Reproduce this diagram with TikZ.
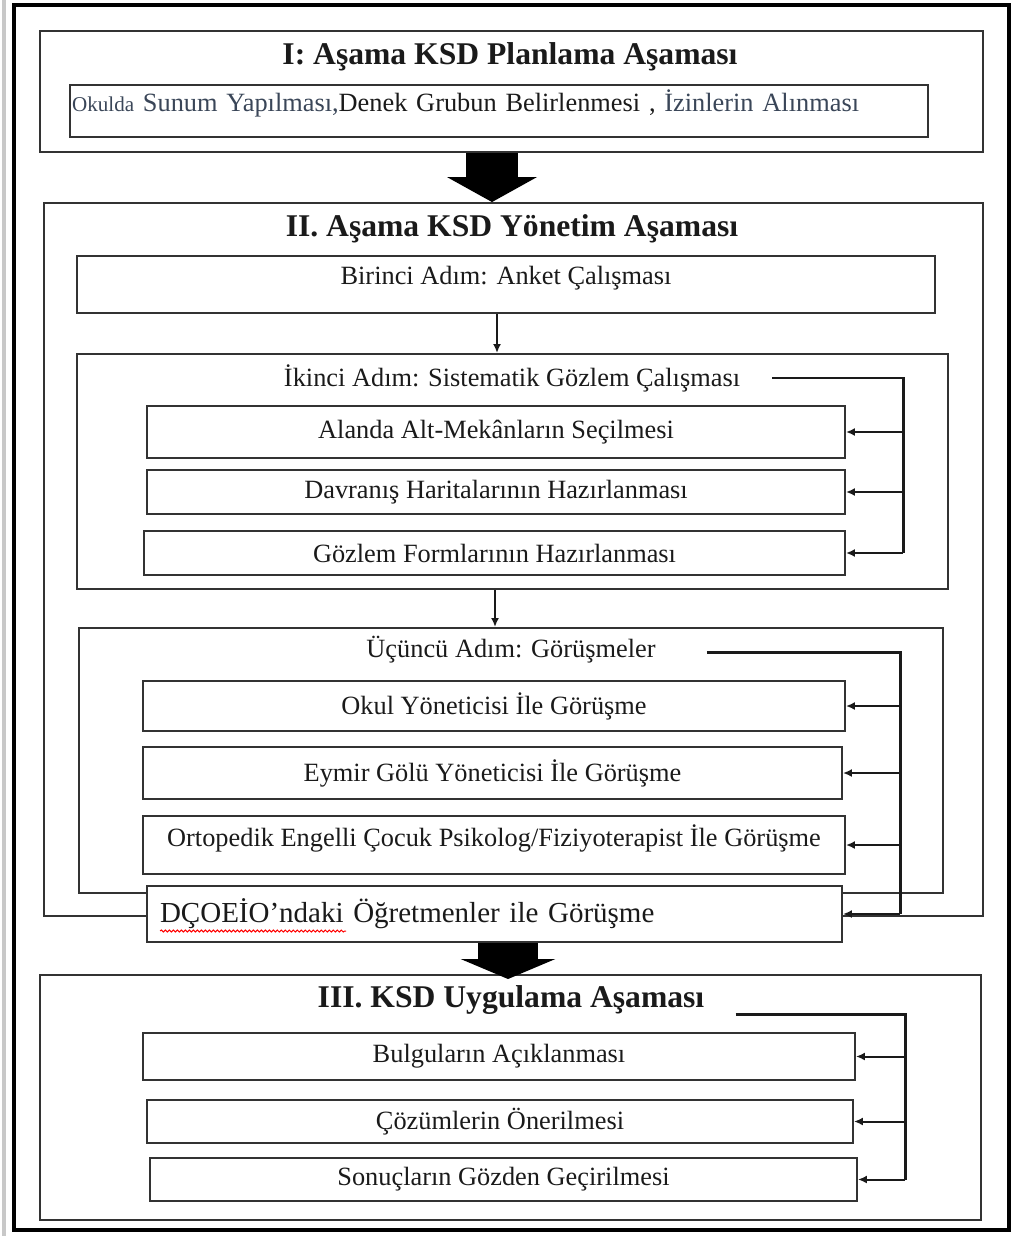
\documentclass[tikz,border=0pt]{standalone}
\usepackage{fontspec}
\setmainfont{Liberation Serif}
\usetikzlibrary{arrows.meta,positioning,calc,decorations.pathmorphing}
\definecolor{ksdInk}{HTML}{1A1A1A}
\definecolor{ksdLine}{HTML}{333333}
\definecolor{ksdSlate}{HTML}{3A4658}
\definecolor{ksdStrip}{HTML}{C8C8C8}
\tikzset{
  phasebox/.style 2 args={draw=ksdLine, line width=0.04cm, minimum width=#1, minimum height=#2, inner sep=0pt},
  stepbox/.style 2 args={draw=ksdLine, line width=0.04cm, minimum width=#1, minimum height=#2, inner sep=0pt, font=\fontsize{15}{17}\selectfont, text=ksdInk},
  ttl/.style={font=\fontsize{18}{20}\selectfont\bfseries, text=ksdInk},
  sub/.style={font=\fontsize{15}{17}\selectfont, text=ksdInk},
  arr/.style={-{Latex[length=0.18cm,width=0.16cm]}, line width=0.04cm, draw=ksdInk},
  brk/.style={line width=0.06cm, draw=ksdInk},
  bigarr/.style n args={3}{line width=#1, -{Triangle[width=#2,length=#3]}, draw=black},
  frame/.style={line width=0.08cm, draw=black},
  spell/.style={draw=red, line width=0.02cm, decorate, decoration={snake, amplitude=0.02cm, segment length=0.08cm}},
}
\begin{document}
\begin{tikzpicture}[x=0.02cm,y=-0.02cm]
\useasboundingbox (0,0) rectangle (1015,1236);
% page frame
\fill[ksdStrip] (2,0) rectangle (6,1236);
\draw[frame] (14,5) rectangle (1009,1230);

% phase I
\node[phasebox={18.86cm}{2.42cm}] (asamaI) at (511.5,91.5) {};
\node[ttl] (asamaIT) at (510,57) {I: Aşama KSD Planlama Aşaması};
\node[stepbox={17.16cm}{1.04cm}, inner xsep=0.04cm, align=left, text width=17.08cm, text height=0.54cm, text depth=0.5cm] (izin) at (499,111)
  {{\fontsize{12}{14}\selectfont\color{ksdSlate}Okulda} {\color{ksdSlate}Sunum Yapılması,}Denek Grubun Belirlenmesi , {\color{ksdSlate}İzinlerin Alınması}};

% phase II
\node[phasebox={18.78cm}{14.26cm}] (asamaII) at (513.5,559.5) {};
\node[ttl] (asamaIIT) at (512,229) {II. Aşama KSD Yönetim Aşaması};
\node[stepbox={17.16cm}{1.14cm}, text height=0.58cm, text depth=0.56cm] (anket) at (506,284.5) {Birinci Adım: Anket Çalışması};
% second step
\node[phasebox={17.42cm}{4.7cm}] (ikinci) at (512.5,471.5) {};
\node[sub] (ikinciT) at (512,378) {İkinci Adım: Sistematik Gözlem Çalışması};
\node[stepbox={13.96cm}{1.04cm}] (alan) at (496,432) {Alanda Alt-Mekânların Seçilmesi};
\node[stepbox={13.96cm}{0.88cm}] (davr) at (496,492) {Davranış Haritalarının Hazırlanması};
\node[stepbox={14.02cm}{0.88cm}] (form) at (494.5,553) {Gözlem Formlarının Hazırlanması};
% third step
\node[phasebox={17.28cm}{5.3cm}] (ucuncu) at (511,760.5) {};
\node[sub] (ucuncuT) at (511,650) {Üçüncü Adım: Görüşmeler};
\node[stepbox={14.04cm}{1.0cm}] (okul) at (494,706) {Okul Yöneticisi İle Görüşme};
\node[stepbox={13.98cm}{1.04cm}] (eymir) at (492.5,773) {Eymir Gölü Yöneticisi İle Görüşme};
\node[stepbox={14.04cm}{1.16cm}, text height=0.6cm, text depth=0.56cm] (orto) at (494,845) {Ortopedik Engelli Çocuk Psikolog/Fiziyoterapist İle Görüşme};
\node[stepbox={13.9cm}{1.12cm}, fill=white, inner xsep=0.26cm, align=left, text width=13.38cm, font=\fontsize{16.5}{19}\selectfont] (dcoe) at (494.5,914)
  {DÇOEİO’ndaki Öğretmenler ile Görüşme};
\draw[spell] ($(dcoe.west)+(14,17)$) -- ++(186,0);

% phase III
\node[phasebox={18.82cm}{4.9cm}] (asamaIII) at (510.5,1097.5) {};
\node[ttl] (asamaIIIT) at (511,1000) {III. KSD Uygulama Aşaması};
\node[stepbox={14.24cm}{0.94cm}] (bulgu) at (499,1056.5) {Bulguların Açıklanması};
\node[stepbox={14.12cm}{0.86cm}] (cozum) at (500,1121.5) {Çözümlerin Önerilmesi};
\node[stepbox={14.14cm}{0.86cm}] (sonuc) at (503.5,1179.5) {Sonuçların Gözden Geçirilmesi};

% flow between phases
\coordinate (colA) at (492,0);
\coordinate (colB) at (497,0);
\coordinate (colC) at (495,0);
\coordinate (colD) at (508,0);
\draw[bigarr={1.04cm}{1.78cm}{0.5cm}] (asamaI.south -| colA) -- (asamaII.north -| colA);
\draw[arr] (anket.south -| colB) -- (ikinci.north -| colB);
\draw[arr] (ikinci.south -| colC) -- (ucuncu.north -| colC);
\draw[bigarr={1.2cm}{1.88cm}{0.4cm}] (dcoe.south -| colD) -- ([yshift=-0.1cm]asamaIII.north -| colD);

% brackets
\coordinate (v2) at (903,0);
\coordinate (v3) at (900,0);
\coordinate (v4) at (905,0);
\draw[brk] ($(ikinciT.east)+(26,0)$) -| (form.east -| v2);
\foreach \n in {alan,davr,form} \draw[arr] (\n.east -| v2) -- (\n.east);
\draw[brk] ($(ucuncuT.east)+(45,2)$) -| (dcoe.east -| v3);
\foreach \n in {okul,eymir,orto,dcoe} \draw[arr] (\n.east -| v3) -- (\n.east);
\draw[brk] ($(asamaIIIT.east)+(25,14)$) -| (sonuc.east -| v4);
\foreach \n in {bulgu,cozum,sonuc} \draw[arr] (\n.east -| v4) -- (\n.east);
\end{tikzpicture}
\end{document}
